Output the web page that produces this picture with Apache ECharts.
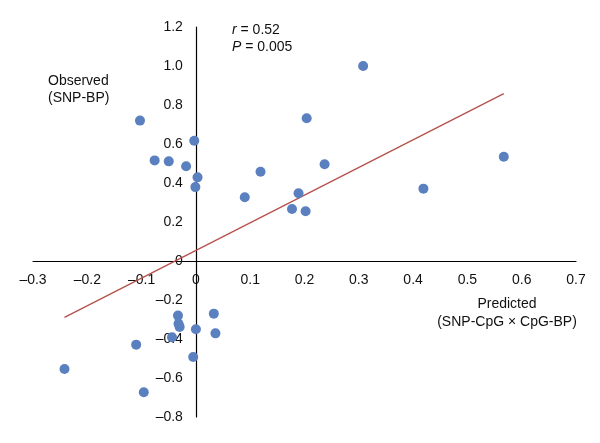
<!DOCTYPE html>
<html>
<head>
<meta charset="utf-8">
<script src="https://cdn.jsdelivr.net/npm/echarts@6/dist/echarts.min.js"></script>
<style>
html,body{margin:0;padding:0;background:#fff;}
#chart{width:600px;height:443px;}
</style>
</head>
<body>
<div id="chart"></div>
<script>
// Predicted (x) and Observed (y) values
var predicted = [-0.103, -0.003, -0.076, -0.050, -0.018, 0.003, -0.001, 0.119, 0.090, 0.177, 0.189,
                 0.308, 0.204, 0.237, 0.567, 0.419, 0.202,
                 -0.033, 0.033, -0.032, -0.030, 0.000, 0.036, -0.044, -0.110, -0.005, -0.242, -0.096];
var observed  = [0.720, 0.617, 0.516, 0.511, 0.486, 0.429, 0.379, 0.458, 0.327, 0.267, 0.347,
                 1.000, 0.732, 0.496, 0.535, 0.371, 0.255,
                 -0.280, -0.270, -0.322, -0.338, -0.350, -0.371, -0.391, -0.429, -0.492, -0.554, -0.673];
// Regression line endpoints
var trendX = [-0.242, 0.567];
var trendY = [-0.289, 0.858];
// Axis ranges
var xMin = -0.3, xMax = 0.7, xStep = 0.1;
var yMin = -0.8, yMax = 1.2, yStep = 0.2;
var statR = '0.52', statP = '0.005';

var W = 600, H = 443;
var G = {left: 33, right: 24, top: 27, bottom: 26};
var gw = W - G.left - G.right, gh = H - G.top - G.bottom;
// place axes so they cross at zero
var xAxisOffset = -gh * (0 - yMin) / (yMax - yMin);
var yAxisOffset = -gw * (0 - xMin) / (xMax - xMin);

var FONT = '"Liberation Sans", Arial, Helvetica, sans-serif';
function fmt(v){
  if (Math.abs(v) < 1e-9) return '0';
  return (v < 0 ? '\u2013' : '') + Math.abs(v).toFixed(1);
}
var points = predicted.map(function(x, i){ return [x, observed[i]]; });
var line = trendX.map(function(x, i){ return [x, trendY[i]]; });

var chart = echarts.init(document.getElementById('chart'));
chart.setOption({
  animation: false,
  backgroundColor: '#fff',
  grid: {left: G.left, right: G.right, top: G.top, bottom: G.bottom, containLabel: false, outerBoundsMode: 'none'},
  xAxis: {
    type: 'value', min: xMin, max: xMax, interval: xStep,
    position: 'bottom', offset: xAxisOffset,
    axisLine: {onZero: false, lineStyle: {color: '#000', width: 1.2}},
    axisTick: {show: false},
    splitLine: {show: false},
    axisLabel: {formatter: fmt, color: '#111', fontSize: 14, fontFamily: FONT, margin: 12, showMinLabel: true, showMaxLabel: true}
  },
  yAxis: {
    type: 'value', min: yMin, max: yMax, interval: yStep,
    position: 'left', offset: yAxisOffset,
    axisLine: {show: true, onZero: false, lineStyle: {color: '#000', width: 1.2}},
    axisTick: {show: false},
    splitLine: {show: false},
    axisLabel: {formatter: fmt, color: '#111', fontSize: 14, fontFamily: FONT, margin: 13, showMinLabel: true, showMaxLabel: true}
  },
  series: [
    {
      type: 'line', data: line, showSymbol: false, symbol: 'none',
      lineStyle: {color: '#b5504c', width: 1.3}, z: 3
    },
    {
      type: 'scatter', data: points, symbolSize: 10,
      itemStyle: {color: '#5b80c0', opacity: 1}, z: 4
    }
  ],
  graphic: [
    {type: 'text', x: 232, y: 22, style: {
      text: '{i|r} = ' + statR + '\n{i|P} = ' + statP,
      font: '14px ' + FONT, fill: '#111', lineHeight: 17,
      rich: {i: {fontStyle: 'italic', fontSize: 14, fontFamily: FONT, fill: '#111'}}
    }},
    {type: 'text', x: 48, y: 73, style: {
      text: 'Observed\n(SNP-BP)', font: '14px ' + FONT, fill: '#111', lineHeight: 17
    }},
    {type: 'text', x: 507, y: 295, style: {
      text: 'Predicted\n(SNP-CpG \u00d7 CpG-BP)', font: '14px ' + FONT, fill: '#111',
      lineHeight: 18, align: 'center'
    }}
  ]
});
</script>
</body>
</html>
